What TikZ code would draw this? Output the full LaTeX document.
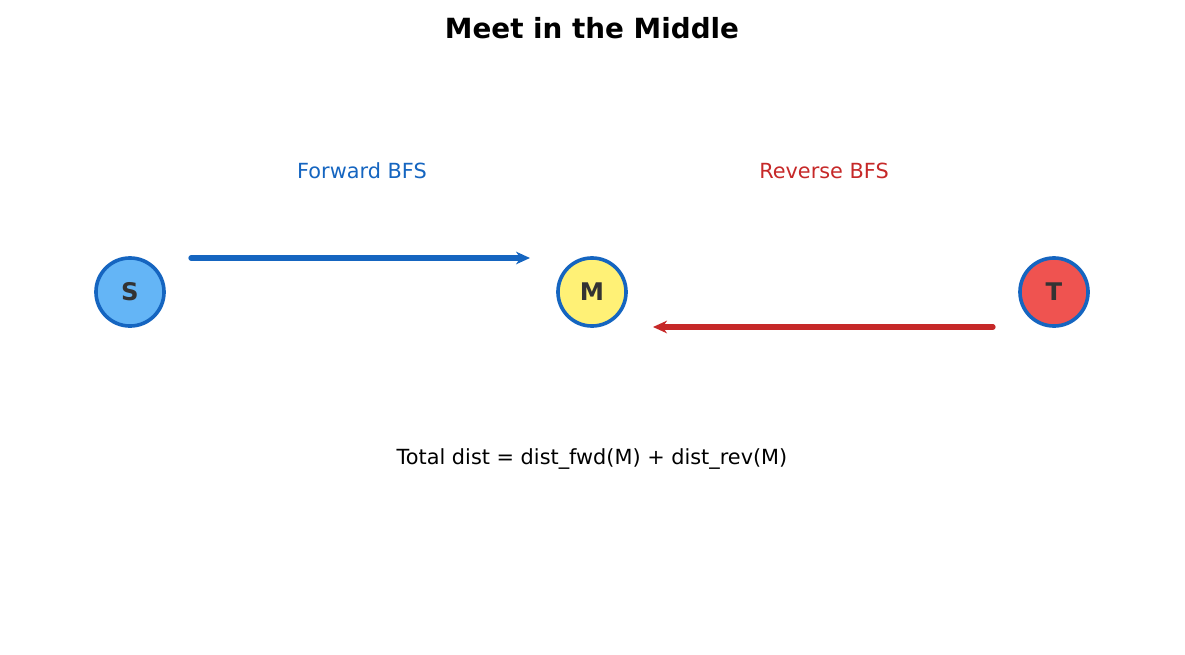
\documentclass[tikz,border=0pt]{standalone}
\usepackage{fontspec}
\setmainfont{DejaVu Sans}
\usetikzlibrary{arrows.meta}
\definecolor{sfill}{HTML}{64B5F6}
\definecolor{mfill}{HTML}{FFF176}
\definecolor{tfill}{HTML}{EF5350}
\definecolor{fwdblue}{HTML}{1565C0}
\definecolor{revred}{HTML}{C62828}
\definecolor{ink}{HTML}{333333}
\begin{document}
\begin{tikzpicture}
    [ x=0.72pt, y=-0.72pt,
      vertex/.style={circle, draw=fwdblue, line width=2.6pt, minimum size=49pt, inner sep=0pt, text=ink, font=\fontsize{17.5}{20}\selectfont\bfseries},
      search/.style={-{Stealth[length=10pt,width=9pt,inset=3pt]}, line width=3.8pt},
      caption/.style={font=\fontsize{15}{18}\selectfont}]

  \useasboundingbox (0,0) rectangle (1185,654);

%%%%%%%%%%%%%%%%%%%%%%%%%%%%%%%%%%%%%%%%%%%%%%%%%%%%%%%%%%%%%%%%%%%%%%%%%%%%%%%%%%%%%%%%%%%%%%%%%%%%%%%%%%
%title and vertices
  \node[font=\fontsize{20}{24}\selectfont\bfseries] (title) at (592,28) {Meet in the Middle};

  \node[vertex, fill=sfill] (s) at (130,292) {S};
  \node[vertex, fill=mfill] (m) at (592,292) {M};
  \node[vertex, fill=tfill] (t) at (1054,292) {T};

%%%%%%%%%%%%%%%%%%%%%%%%%%%%%%%%%%%%%%%%%%%%%%%%%%%%%%%%%%%%%%%%%%%%%%%%%%%%%%%%%%%%%%%%%%%%%%%%%%%%%%%%%%
%searches from both ends
  \coordinate (fwdStart) at (191,258);
  \coordinate (fwdEnd) at (530,258);
  \coordinate (revStart) at (993,327);
  \coordinate (revEnd) at (653,327);

  \draw[search, fwdblue, line cap=round] (fwdStart) -- (fwdEnd);
  \draw[search, revred, line cap=round] (revStart) -- (revEnd);

  \node[caption, text=fwdblue] (fwdLabel) at (362,171) {Forward BFS};
  \node[caption, text=revred] (revLabel) at (824,171) {Reverse BFS};

  \node[caption] (total) at (592,459) {Total dist = dist\_fwd(M) + dist\_rev(M)};

\end{tikzpicture}
\end{document}
